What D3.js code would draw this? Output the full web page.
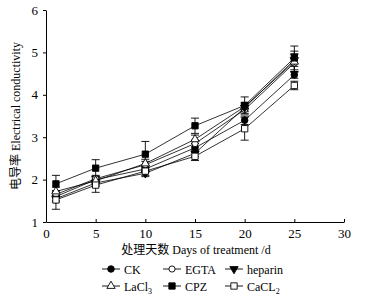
<!DOCTYPE html>
<html>
<head>
<meta charset="utf-8">
<script src="https://cdn.jsdelivr.net/npm/d3@7"></script>
<style>
  body { margin: 0; background: #fff; }
  text { font-family: "Liberation Serif", "Times New Roman", "Noto Sans CJK SC", serif; fill: #000; }
</style>
</head>
<body>
<svg id="chart" width="366" height="298"></svg>
<script>
// days of treatment
var days = [1, 5, 10, 15, 20, 25];

// series values
var ck      = [1.60, 2.00, 2.25, 2.75, 3.40, 4.47];
var egta    = [1.65, 2.02, 2.35, 2.85, 3.65, 4.75];
var heparin = [1.55, 1.92, 2.15, 2.62, 3.70, 4.82];
var lacl3   = [1.72, 1.97, 2.38, 2.95, 3.72, 4.78];
var cpz     = [1.90, 2.27, 2.60, 3.27, 3.75, 4.87];
var cacl2   = [1.52, 1.87, 2.20, 2.55, 3.20, 4.22];

// error bars (± sd)
var ckErr      = [0.10, 0.08, 0.08, 0.10, 0.10, 0.08];
var egtaErr    = [0.08, 0.08, 0.08, 0.08, 0.10, 0.20];
var heparinErr = [0.08, 0.08, 0.08, 0.08, 0.10, 0.15];
var lacl3Err   = [0.10, 0.10, 0.10, 0.10, 0.10, 0.25];
var cpzErr     = [0.20, 0.20, 0.30, 0.18, 0.20, 0.28];
var cacl2Err   = [0.22, 0.17, 0.10, 0.10, 0.27, 0.10];

var xTicks = [0, 5, 10, 15, 20, 25, 30];
var yTicks = [1, 2, 3, 4, 5, 6];

var series = [
    {name: "CK",      sub: "",  vals: ck,      err: ckErr,      sym: d3.symbolCircle,   fill: "#000", size: 34},
    {name: "EGTA",    sub: "",  vals: egta,    err: egtaErr,    sym: d3.symbolCircle,   fill: "#fff", size: 30},
    {name: "heparin", sub: "",  vals: heparin, err: heparinErr, sym: d3.symbolTriangle, fill: "#000", size: 30, rot: 180},
    {name: "LaCl",    sub: "3", vals: lacl3,   err: lacl3Err,   sym: d3.symbolTriangle, fill: "#fff", size: 30},
    {name: "CPZ",     sub: "",  vals: cpz,     err: cpzErr,     sym: d3.symbolSquare,   fill: "#000", size: 40},
    {name: "CaCL",    sub: "2", vals: cacl2,   err: cacl2Err,   sym: d3.symbolSquare,   fill: "#fff", size: 40}
];

var svg = d3.select("#chart");

var x = d3.scaleLinear().domain([0, 30]).range([46, 344]);
var y = d3.scaleLinear().domain([1, 6]).range([222, 10]);

// axes
var xAxis = svg.append("g")
    .attr("transform", "translate(0,222)")
    .call(d3.axisBottom(x).tickValues(xTicks).tickSizeInner(-3).tickSizeOuter(0).tickPadding(7));
var yAxis = svg.append("g")
    .attr("transform", "translate(46,0)")
    .call(d3.axisLeft(y).tickValues(yTicks).tickFormat(d3.format("d")).tickSize(3).tickSizeOuter(0).tickPadding(5));

[xAxis, yAxis].forEach(function(a) {
    a.selectAll("path, line").attr("stroke", "#000").attr("stroke-width", 1);
    a.selectAll("text").attr("font-size", 13).attr("font-family", "Liberation Serif, serif");
});

// axis titles
svg.append("text")
    .attr("x", 196).attr("y", 254)
    .attr("text-anchor", "middle")
    .attr("font-size", 12)
    .text("处理天数 Days of treatment /d");

svg.append("text")
    .attr("transform", "translate(20,116) rotate(-90)")
    .attr("text-anchor", "middle")
    .attr("font-size", 12)
    .text("电导率 Electrical conductivity");

var line = d3.line()
    .x(function(d) { return x(d.day); })
    .y(function(d) { return y(d.v); });

var plot = svg.append("g");

// error bars
series.forEach(function(s) {
    var pts = days.map(function(d, i) { return {day: d, v: s.vals[i], e: s.err[i]}; });
    var eb = plot.append("g").selectAll("g").data(pts).enter().append("g");
    eb.append("line")
        .attr("x1", function(d) { return x(d.day); })
        .attr("x2", function(d) { return x(d.day); })
        .attr("y1", function(d) { return y(d.v - d.e); })
        .attr("y2", function(d) { return y(d.v + d.e); })
        .attr("stroke", "#000").attr("stroke-width", 0.9);
    [-1, 1].forEach(function(sign) {
        eb.append("line")
            .attr("x1", function(d) { return x(d.day) - 4; })
            .attr("x2", function(d) { return x(d.day) + 4; })
            .attr("y1", function(d) { return y(d.v + sign * d.e); })
            .attr("y2", function(d) { return y(d.v + sign * d.e); })
            .attr("stroke", "#000").attr("stroke-width", 0.9);
    });
});

// lines + markers
series.forEach(function(s) {
    var pts = days.map(function(d, i) { return {day: d, v: s.vals[i]}; });
    plot.append("path")
        .datum(pts)
        .attr("d", line)
        .attr("fill", "none")
        .attr("stroke", "#000")
        .attr("stroke-width", 0.8);
    plot.append("g").selectAll("path").data(pts).enter().append("path")
        .attr("d", d3.symbol().type(s.sym).size(s.size))
        .attr("transform", function(d) {
            return "translate(" + x(d.day) + "," + y(d.v) + ")" + (s.rot ? " rotate(" + s.rot + ")" : "");
        })
        .attr("fill", s.fill)
        .attr("stroke", "#000")
        .attr("stroke-width", 0.9);
});

// legend
var legX = [102, 163, 225];
var legY = [269, 286];
var leg = svg.append("g");
series.forEach(function(s, i) {
    var lx = legX[i % 3], ly = legY[Math.floor(i / 3)];
    var g = leg.append("g").attr("transform", "translate(" + lx + "," + ly + ")");
    g.append("line").attr("x1", 0).attr("x2", 18).attr("y1", 0).attr("y2", 0)
        .attr("stroke", "#000").attr("stroke-width", 0.9);
    g.append("path")
        .attr("d", d3.symbol().type(s.sym).size(s.size))
        .attr("transform", "translate(9,0)" + (s.rot ? " rotate(" + s.rot + ")" : ""))
        .attr("fill", s.fill).attr("stroke", "#000").attr("stroke-width", 0.9);
    var t = g.append("text").attr("x", 22).attr("y", 4.5).attr("font-size", 12).text(s.name);
    if (s.sub) {
        t.append("tspan").attr("font-size", 8).attr("dy", 3).text(s.sub);
    }
});
</script>
</body>
</html>
